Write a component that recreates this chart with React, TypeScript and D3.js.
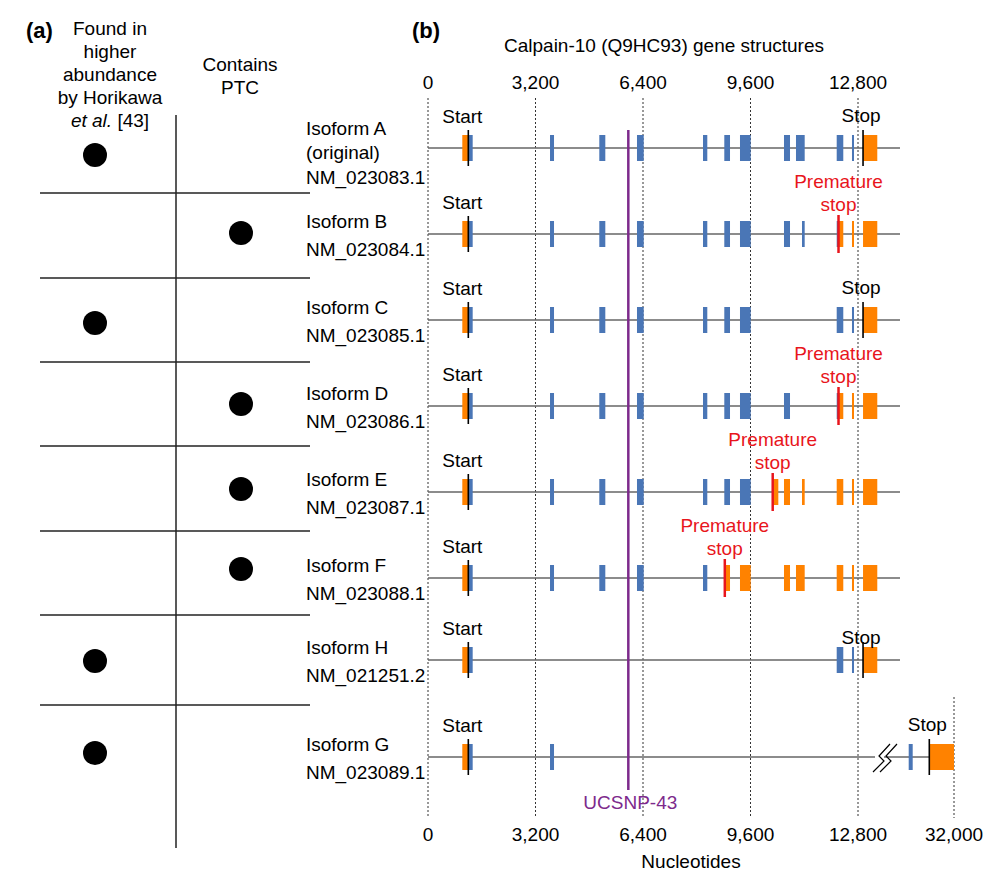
import React from "react";
import * as d3 from "d3";

// ---------- data ----------
const isoformNames = ["Isoform A", "Isoform B", "Isoform C", "Isoform D", "Isoform E", "Isoform F", "Isoform H", "Isoform G"];
const isoformSubtitles = ["(original)", "", "", "", "", "", "", ""];
const accessions = ["NM_023083.1", "NM_023084.1", "NM_023085.1", "NM_023086.1", "NM_023087.1", "NM_023088.1", "NM_021251.2", "NM_023089.1"];
const higherAbundance = [true, false, true, false, false, false, true, true];
const containsPTC = [false, true, false, true, true, true, false, false];

// exon coordinates in nucleotides
const e1 = [1021, 1330];
const e2 = [3632, 3751];
const e3 = [5099, 5278];
const e4 = [6221, 6421];
const e5 = [8186, 8314];
const e6 = [8820, 8990];
const e7 = [9287, 9606];
const e7b = [10240, 10428];
const e8 = [10597, 10776];
const e9 = [10954, 11213];
const e9b = [11133, 11213];
const e10 = [12166, 12362];
const e11 = [12621, 12681];
const e12 = [12950, 13374];
const eG1 = [22940, 23740];
const eG2 = [27060, 32000];

const exonsA = [e1, e2, e3, e4, e5, e6, e7, e8, e9, e10, e11, e12];
const exonsB = [e1, e2, e3, e4, e5, e6, e7, e8, e9b, e10, e11, e12];
const exonsC = [e1, e2, e3, e4, e5, e6, e7, e10, e11, e12];
const exonsD = [e1, e2, e3, e4, e5, e6, e7, e8, e10, e11, e12];
const exonsE = [e1, e2, e3, e4, e5, e6, e7, e7b, e8, e9b, e10, e11, e12];
const exonsF = [e1, e2, e3, e4, e5, e6, e7, e8, e9, e10, e11, e12];
const exonsH = [e1, e10, e11, e12];
const exonsG = [e1, e2, eG1, eG2];
const isoformExons = [exonsA, exonsB, exonsC, exonsD, exonsE, exonsF, exonsH, exonsG];

const startCodon = 1200;
const stopCodons = [12950, 12220, 12950, 12220, 10261, 8835, 12950, 27060];
const prematureStop = [false, true, false, true, true, true, false, false];
const geneEnds = [14050, 14050, 14050, 14050, 14050, 14050, 14050, 32000];
const snpPosition = 5963;
const snpLabel = "UCSNP-43";
const topTicks = [0, 3200, 6400, 9600, 12800];
const bottomTicks = [0, 3200, 6400, 9600, 12800, 32000];
const gBreak = [15800, 19200];

// ---------- layout ----------
const rowY = [148, 234, 320, 406, 492, 578, 660, 757];
const stopLabelDy = [-26, -26, -26, -26, -26, -26, -16, -26];
const dotY = [155, 233, 323, 404, 489, 569, 661, 753];
const separators = [193, 278, 362, 446, 531, 615, 705];
const FONT = "'Liberation Sans', Arial, Helvetica, sans-serif";
const FS = 19;
const BLUE = "#4a76b6";
const ORANGE = "#ff8200";
const RED = "#e8151c";
const PURPLE = "#7d2a8c";
const EXON_H = 26;

const x = d3.scaleLinear().domain([0, 12800]).range([428, 858]);
const xG = d3.scaleLinear().domain([0, 12800, 32000]).range([428, 858, 954]);
const fmt = d3.format(",");

function segments(exon: number[], start: number, stop: number) {
  const cuts = [exon[0], exon[1]];
  [start, stop].forEach((c) => {
    if (c > exon[0] && c < exon[1]) cuts.push(c);
  });
  cuts.sort((a, b) => a - b);
  const out: { a: number; b: number; coding: boolean }[] = [];
  for (let i = 0; i < cuts.length - 1; i++) {
    const mid = (cuts[i] + cuts[i + 1]) / 2;
    out.push({ a: cuts[i], b: cuts[i + 1], coding: mid > start && mid < stop });
  }
  return out;
}

export default function App() {
  return (
    <svg width={1000} height={888} style={{ position: "absolute", left: 0, top: 0, background: "#fff" }} fontFamily={FONT}>
      <rect width={1000} height={888} fill="#fff" />
      {/* Panel (a) */}
      <text x={26} y={38} fontSize={22} fontWeight="bold">(a)</text>
      <g fontSize={FS} textAnchor="middle">
        <text x={110} y={35}>Found in</text>
        <text x={110} y={58}>higher</text>
        <text x={110} y={81}>abundance</text>
        <text x={110} y={104}>by Horikawa</text>
        <text x={110} y={127}>
          <tspan fontStyle="italic">et al.</tspan> [43]
        </text>
        <text x={240} y={71}>Contains</text>
        <text x={240} y={94}>PTC</text>
      </g>
      <line x1={176} x2={176} y1={115} y2={848} stroke="#222" strokeWidth={1.5} />
      {separators.map((s, i) => (
        <line key={i} x1={40} x2={310} y1={s} y2={s} stroke="#222" strokeWidth={1.5} />
      ))}
      {dotY.map((y, i) => (
        <g key={i}>
          {higherAbundance[i] && <circle cx={95} cy={y} r={12} fill="#000" />}
          {containsPTC[i] && <circle cx={241} cy={y} r={12} fill="#000" />}
        </g>
      ))}

      {/* Panel (b) */}
      <text x={412} y={38} fontSize={22} fontWeight="bold">(b)</text>
      <text x={664} y={52} fontSize={FS} textAnchor="middle">Calpain-10 (Q9HC93) gene structures</text>
      {topTicks.map((t) => (
        <text key={t} x={x(t)} y={89} fontSize={FS} textAnchor="middle">{fmt(t)}</text>
      ))}
      {topTicks.map((t) => (
        <line key={"g" + t} x1={x(t)} x2={x(t)} y1={98} y2={818} stroke="#333" strokeWidth={1} strokeDasharray="2,2" />
      ))}
      <line x1={xG(32000)} x2={xG(32000)} y1={697} y2={818} stroke="#333" strokeWidth={1} strokeDasharray="2,2" />
      {bottomTicks.map((t) => (
        <text key={"b" + t} x={xG(t)} y={841} fontSize={FS} textAnchor="middle">{fmt(t)}</text>
      ))}
      <text x={691} y={868} fontSize={FS} textAnchor="middle">Nucleotides</text>

      {/* isoform labels */}
      {isoformNames.map((n, i) => {
        const y = rowY[i];
        if (isoformSubtitles[i]) {
          return (
            <g key={n} fontSize={FS}>
              <text x={306} y={y - 13}>{n}</text>
              <text x={306} y={y + 11}>{isoformSubtitles[i]}</text>
              <text x={306} y={y + 36}>{accessions[i]}</text>
            </g>
          );
        }
        return (
          <g key={n} fontSize={FS}>
            <text x={306} y={y - 6}>{n}</text>
            <text x={306} y={y + 22}>{accessions[i]}</text>
          </g>
        );
      })}

      {/* gene structures */}
      {isoformExons.map((exons, i) => {
        const y = rowY[i];
        const sx = i === 7 ? xG : x;
        const stop = stopCodons[i];
        return (
          <g key={i}>
            <line x1={sx(0)} x2={sx(geneEnds[i])} y1={y} y2={y} stroke="#666" strokeWidth={1.5} />
            {exons.map((ex, j) =>
              segments(ex, startCodon, stop).map((s, k) => (
                <rect
                  key={j + "-" + k}
                  x={sx(s.a)}
                  y={y - EXON_H / 2}
                  width={Math.max(sx(s.b) - sx(s.a), 0.5)}
                  height={EXON_H}
                  fill={s.coding ? BLUE : ORANGE}
                />
              ))
            )}
            <line x1={sx(startCodon)} x2={sx(startCodon)} y1={y - 18} y2={y + 18} stroke="#000" strokeWidth={1.6} />
            <text x={sx(startCodon) - 6} y={y - 25} fontSize={FS} textAnchor="middle">Start</text>
            {prematureStop[i] ? (
              <g>
                <line x1={sx(stop)} x2={sx(stop)} y1={y - 19} y2={y + 19} stroke={RED} strokeWidth={2.5} />
                <text x={sx(stop)} y={y - 46} fontSize={FS} textAnchor="middle" fill={RED}>Premature</text>
                <text x={sx(stop)} y={y - 23} fontSize={FS} textAnchor="middle" fill={RED}>stop</text>
              </g>
            ) : (
              <g>
                <line x1={sx(stop)} x2={sx(stop)} y1={y - 18} y2={y + 18} stroke="#000" strokeWidth={1.6} />
                <text x={sx(stop) - 2} y={y + stopLabelDy[i]} fontSize={FS} textAnchor="middle">Stop</text>
              </g>
            )}
            {i === 7 && (
              <g>
                <rect x={xG(gBreak[0]) + 2} y={y - 3} width={xG(gBreak[1]) - xG(gBreak[0]) - 8} height={6} fill="#fff" />
                {[0, 7].map((o) => (
                  <polyline
                    key={o}
                    points={[
                      [xG(gBreak[0]) + o, y + 15],
                      [xG(gBreak[0]) + o + 11, y + 4],
                      [xG(gBreak[0]) + o + 6, y - 1],
                      [xG(gBreak[0]) + o + 17, y - 13],
                    ]
                      .map((p) => p.join(","))
                      .join(" ")}
                    fill="none"
                    stroke="#000"
                    strokeWidth={1.2}
                  />
                ))}
              </g>
            )}
          </g>
        );
      })}

      {/* SNP */}
      <line x1={x(snpPosition)} x2={x(snpPosition)} y1={130} y2={790} stroke={PURPLE} strokeWidth={2.5} />
      <text x={x(snpPosition) + 2} y={809} fontSize={FS} textAnchor="middle" fill={PURPLE}>{snpLabel}</text>
    </svg>
  );
}
